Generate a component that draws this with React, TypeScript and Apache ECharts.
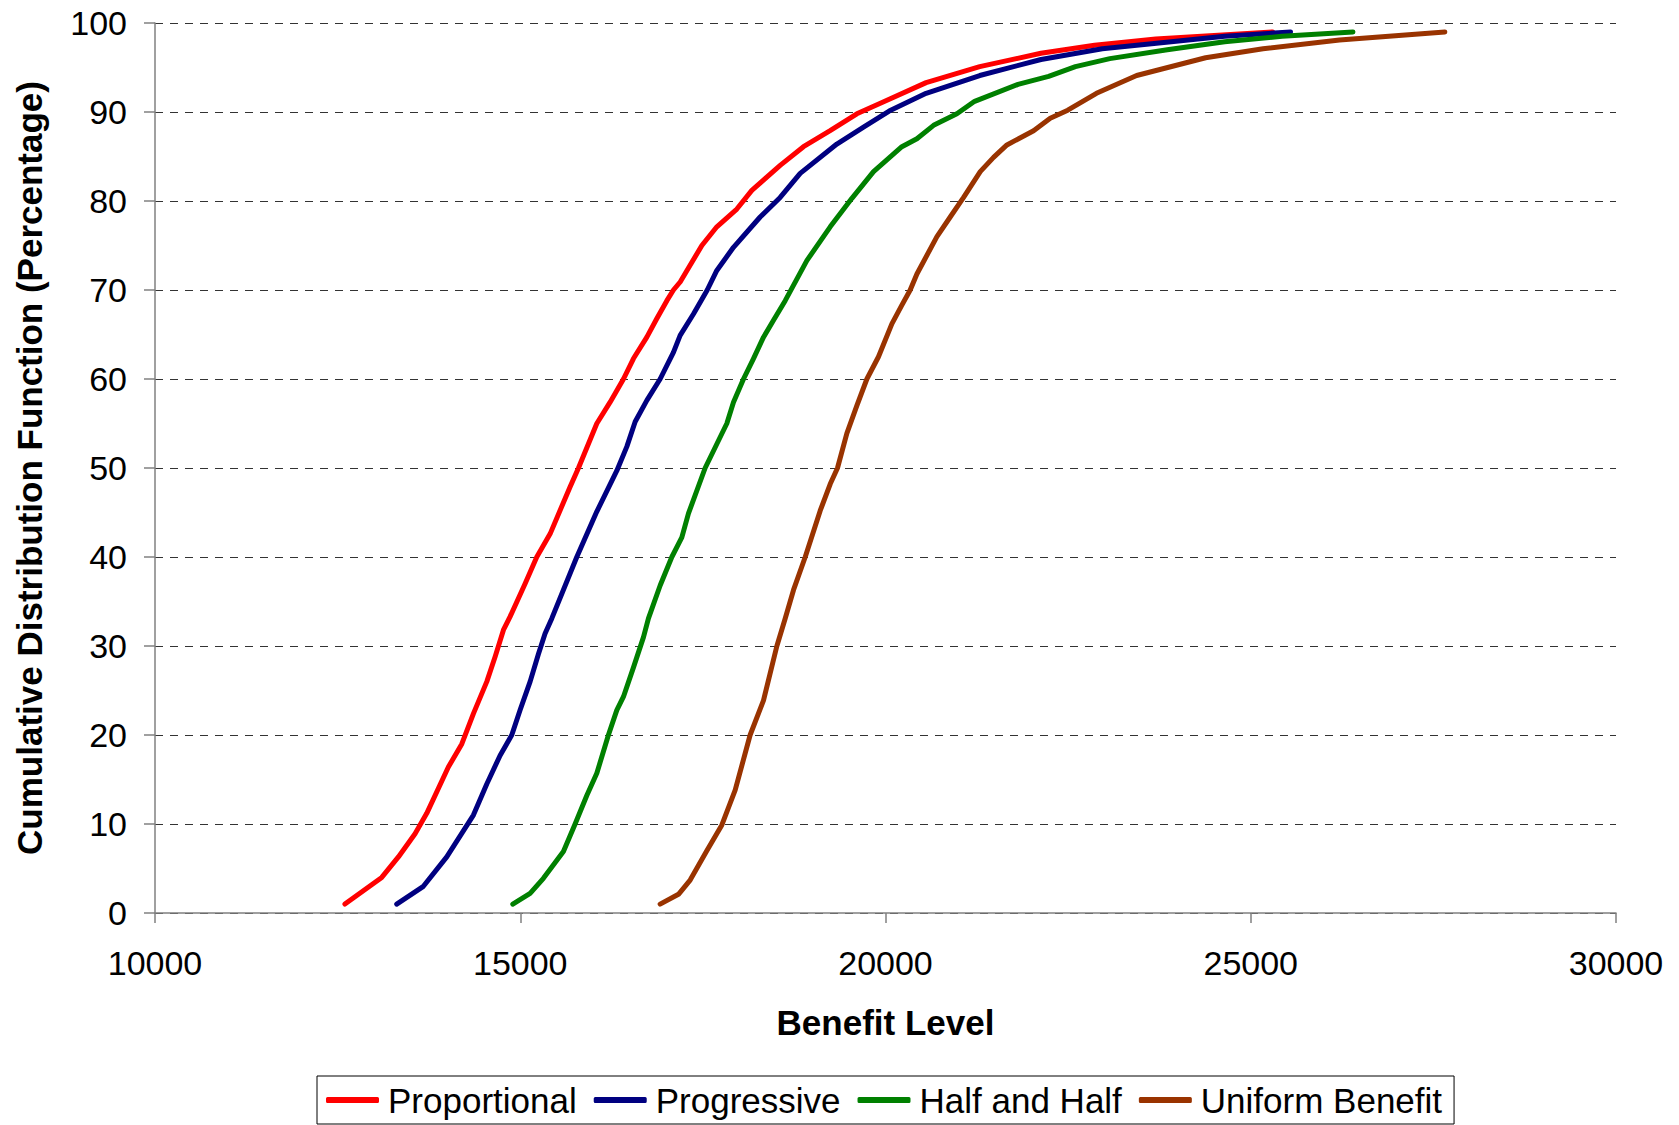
import React, { useEffect, useRef } from "react";
import * as echarts from "echarts";

// ---------- data (Benefit Level, Cumulative %) ----------
const seriesNames = ["Proportional", "Progressive", "Half and Half", "Uniform Benefit"];
const seriesColors = ["#FF0000", "#000080", "#008000", "#993300"];

const proportional: [number, number][] = [
  [12600, 1], [13104, 4], [13332, 6.3], [13560, 8.9], [13720, 11.2], [14016, 16.4],
  [14200, 19], [14359, 22.4], [14542, 26], [14656, 28.8], [14770, 31.8], [14861, 33.3],
  [15066, 37], [15226, 40], [15409, 42.6], [15683, 47.9], [15797, 50], [16048, 55],
  [16230, 57.4], [16413, 60], [16550, 62.3], [16733, 64.7], [16870, 66.8], [17007, 68.8],
  [17097, 70], [17189, 70.9], [17486, 75], [17691, 77.1], [17965, 79.1], [18170, 81.2],
  [18558, 84], [18877, 86.1], [19242, 87.9], [19608, 89.8], [19960, 91.1], [20556, 93.3],
  [21290, 95.1], [22128, 96.6], [22862, 97.5], [23700, 98.2], [25300, 99],
];

const progressive: [number, number][] = [
  [13309, 1], [13674, 3], [13994, 6.3], [14359, 11], [14542, 14.5], [14724, 17.7],
  [14884, 20], [14998, 22.8], [15135, 26], [15249, 29.1], [15340, 31.4], [15432, 33.1],
  [15774, 40], [16048, 45.1], [16322, 49.7], [16459, 52.4], [16573, 55.2], [16733, 57.6],
  [16915, 60], [17097, 63], [17189, 64.9], [17371, 67.3], [17560, 70], [17691, 72.2],
  [17919, 74.8], [18284, 78.2], [18558, 80.4], [18832, 83.1], [19334, 86.4], [19699, 88.3],
  [20050, 90.1], [20556, 92.1], [21290, 94.1], [22128, 95.9], [22968, 97.1], [23911, 97.9],
  [24644, 98.5], [25545, 99],
];

const halfAndHalf: [number, number][] = [
  [14898, 1], [15135, 2.2], [15317, 3.9], [15591, 6.9], [15751, 10], [15911, 13.2],
  [16048, 15.7], [16207, 20], [16322, 22.8], [16413, 24.3], [16550, 27.6], [16687, 31],
  [16755, 33.1], [16915, 36.8], [17075, 40], [17212, 42.2], [17303, 44.9], [17531, 50],
  [17691, 52.7], [17828, 55], [17919, 57.4], [18056, 60], [18193, 62.3], [18330, 64.7],
  [18467, 66.6], [18627, 68.8], [18923, 73.3], [19243, 77.1], [19540, 80.3], [19836, 83.3],
  [20224, 86.1], [20430, 87], [20658, 88.5], [20977, 89.8], [21220, 91.2], [21814, 93.1],
  [22233, 94], [22600, 95.1], [23071, 96], [23857, 97], [24643, 97.9], [25429, 98.5],
  [26399, 99],
];

const uniformBenefit: [number, number][] = [
  [16915, 1], [17166, 2.1], [17326, 3.7], [17554, 7], [17760, 9.9], [17942, 13.8],
  [18147, 20], [18330, 23.9], [18513, 30], [18627, 33.1], [18741, 36.3], [18901, 40],
  [19106, 45.2], [19243, 48.2], [19343, 50], [19471, 53.9], [19608, 57], [19745, 60],
  [19904, 62.5], [20087, 66.2], [20224, 68.3], [20338, 70], [20430, 71.8], [20704, 76],
  [20886, 78.2], [21069, 80.4], [21297, 83.3], [21479, 84.9], [21662, 86.3], [22027, 87.9],
  [22255, 89.3], [22495, 90.2], [22888, 92.1], [23438, 94.1], [24382, 96.1], [25168, 97.1],
  [26215, 98.1], [27657, 99],
];

const seriesData = [proportional, progressive, halfAndHalf, uniformBenefit];

const xMin = 10000;
const xMax = 30000;
const xInterval = 5000;
const yMin = 0;
const yMax = 100;
const yInterval = 10;

const xAxisTitle = "Benefit Level";
const yAxisTitle = "Cumulative Distribution Function (Percentage)";

const FONT = "'Liberation Sans', Arial, Helvetica, sans-serif";

export default function App() {
  const ref = useRef<HTMLDivElement>(null);

  useEffect(() => {
    if (!ref.current) return;
    const chart = echarts.init(ref.current, undefined, { renderer: "svg" });
    chart.setOption({
      animation: false,
      backgroundColor: "#ffffff",
      textStyle: { fontFamily: FONT },
      grid: {
        left: 155,
        right: 63,
        top: 23,
        bottom: 212,
        containLabel: false,
        outerBoundsMode: "none",
      },
      legend: {
        show: true,
        left: 317,
        top: 1076,
        orient: "horizontal",
        data: seriesNames,
        icon: "roundRect",
        itemWidth: 53,
        itemHeight: 6,
        itemGap: 17,
        borderColor: "#000000",
        borderWidth: 1,
        padding: [6, 12, 6, 9],
        textStyle: {
          fontFamily: FONT,
          fontSize: 35,
          color: "#000000",
          lineHeight: 36,
          padding: [0, 0, 0, 4],
        },
      },
      xAxis: {
        type: "value",
        min: xMin,
        max: xMax,
        interval: xInterval,
        name: xAxisTitle,
        nameLocation: "middle",
        nameGap: 92,
        nameTextStyle: {
          fontFamily: FONT,
          fontSize: 35,
          fontWeight: "bold",
          color: "#000000",
        },
        axisLine: { show: true, lineStyle: { color: "#808080", width: 1.5 } },
        axisTick: { show: true, inside: false, length: 10, lineStyle: { color: "#808080", width: 1.5 } },
        axisLabel: {
          fontFamily: FONT,
          fontSize: 34,
          color: "#000000",
          margin: 33,
          formatter: (v: number) => String(v),
        },
        splitLine: { show: false },
      },
      yAxis: {
        type: "value",
        min: yMin,
        max: yMax,
        interval: yInterval,
        name: yAxisTitle,
        nameLocation: "middle",
        nameGap: 108,
        nameRotate: 90,
        nameTextStyle: {
          fontFamily: FONT,
          fontSize: 35,
          fontWeight: "bold",
          color: "#000000",
        },
        axisLine: { show: true, lineStyle: { color: "#808080", width: 1.5 } },
        axisTick: { show: true, inside: false, length: 11, lineStyle: { color: "#808080", width: 1.5 } },
        axisLabel: {
          fontFamily: FONT,
          fontSize: 34,
          color: "#000000",
          margin: 28,
          formatter: (v: number) => String(v),
        },
        splitLine: {
          show: true,
          lineStyle: { color: "#333333", width: 1, type: [8, 7] },
        },
      },
      series: seriesNames.map((name, i) => ({
        name,
        type: "line",
        data: seriesData[i],
        showSymbol: false,
        symbol: "none",
        smooth: false,
        color: seriesColors[i],
        lineStyle: { color: seriesColors[i], width: 5, cap: "round", join: "round" },
        itemStyle: { color: seriesColors[i] },
        z: 3 + i,
      })),
    });
    return () => {
      chart.dispose();
    };
  }, []);

  return (
    <div
      ref={ref}
      style={{ position: "fixed", left: 0, top: 0, width: "1679px", height: "1125px", background: "#fff" }}
    />
  );
}
